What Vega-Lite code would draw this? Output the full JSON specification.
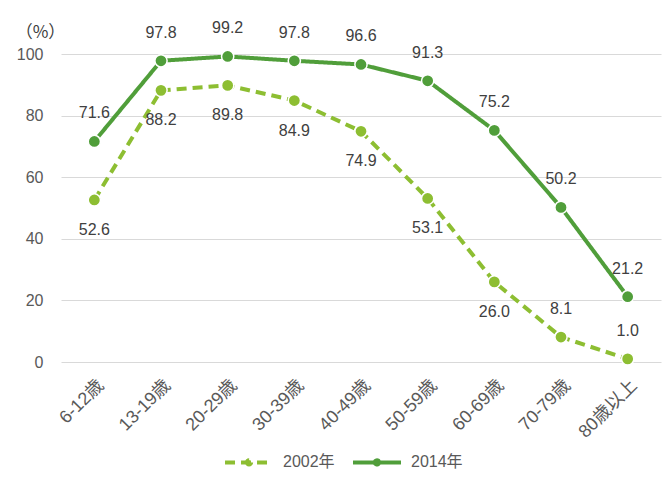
{
  "$schema": "https://vega.github.io/schema/vega-lite/v6.json",
  "width": 600,
  "height": 308,
  "autosize": "none",
  "padding": {"left": 61, "top": 54, "right": 10, "bottom": 117},
  "background": "white",
  "config": {
    "font": "'Liberation Sans', 'Noto Sans CJK JP', sans-serif",
    "view": {"stroke": null},
    "axis": {"labelColor": "#595959", "labelFontSize": 16, "titleColor": "#404040", "gridColor": "#D9D9D9", "gridWidth": 1, "domain": false, "ticks": false},
    "legend": {"labelColor": "#595959", "labelFontSize": 16}
  },
  "data": {
    "values": [
      {"age": "6-12歳", "year": "2002年", "rate": 52.6},
      {"age": "13-19歳", "year": "2002年", "rate": 88.2},
      {"age": "20-29歳", "year": "2002年", "rate": 89.8},
      {"age": "30-39歳", "year": "2002年", "rate": 84.9},
      {"age": "40-49歳", "year": "2002年", "rate": 74.9},
      {"age": "50-59歳", "year": "2002年", "rate": 53.1},
      {"age": "60-69歳", "year": "2002年", "rate": 26.0},
      {"age": "70-79歳", "year": "2002年", "rate": 8.1},
      {"age": "80歳以上", "year": "2002年", "rate": 1.0},
      {"age": "6-12歳", "year": "2014年", "rate": 71.6},
      {"age": "13-19歳", "year": "2014年", "rate": 97.8},
      {"age": "20-29歳", "year": "2014年", "rate": 99.2},
      {"age": "30-39歳", "year": "2014年", "rate": 97.8},
      {"age": "40-49歳", "year": "2014年", "rate": 96.6},
      {"age": "50-59歳", "year": "2014年", "rate": 91.3},
      {"age": "60-69歳", "year": "2014年", "rate": 75.2},
      {"age": "70-79歳", "year": "2014年", "rate": 50.2},
      {"age": "80歳以上", "year": "2014年", "rate": 21.2}
    ]
  },
  "encoding": {
    "x": {
      "field": "age", "type": "ordinal",
      "sort": ["6-12歳", "13-19歳", "20-29歳", "30-39歳", "40-49歳", "50-59歳", "60-69歳", "70-79歳", "80歳以上"],
      "scale": {"type": "point", "padding": 0.5},
      "axis": {"title": null, "labelAngle": -45, "labelPadding": 14, "labelFontSize": 18, "grid": false}
    },
    "y": {
      "field": "rate", "type": "quantitative",
      "scale": {"domain": [0, 100]},
      "axis": {"values": [0, 20, 40, 60, 80, 100], "title": "（%）", "titleFont": "'Noto Sans CJK JP', sans-serif", "titleAngle": 0, "titleX": -21, "titleY": -22, "titleAlign": "center", "titleBaseline": "middle", "titleFontSize": 17, "titleFontWeight": "normal", "labelPadding": 18}
    }
  },
  "layer": [
    {
      "mark": {"type": "line", "strokeWidth": 4},
      "encoding": {
        "color": {
          "field": "year", "type": "nominal",
          "scale": {"domain": ["2002年", "2014年"], "range": ["#8DBE32", "#509E3A"]},
          "legend": {
            "title": null, "orient": "none", "direction": "horizontal", "legendX": 162, "legendY": 382,
            "symbolType": "M-1,0H1M0.09,0A0.09,0.09,0,1,1,-0.09,0A0.09,0.09,0,1,1,0.09,0Z",
            "symbolSize": 2300, "symbolStrokeWidth": 4, "columnPadding": 10, "labelOffset": 8,
            "encode": {"symbols": {"update": {"fill": {"scale": "color", "field": "value"}}}}
          }
        },
        "strokeDash": {
          "field": "year", "type": "nominal",
          "scale": {"domain": ["2002年", "2014年"], "range": [[10, 6], [1, 0]]},
          "legend": null
        }
      }
    },
    {
      "mark": {"type": "point", "filled": true, "size": 150, "stroke": "white", "strokeWidth": 1.5, "opacity": 1},
      "encoding": {
        "fill": {"field": "year", "type": "nominal", "scale": {"domain": ["2002年", "2014年"], "range": ["#8DBE32", "#509E3A"]}, "legend": null}
      }
    },
    {
      "transform": [{"filter": "datum.year === '2014年' || datum.age === '70-79歳' || datum.age === '80歳以上'"}],
      "mark": {"type": "text", "dy": -28, "fontSize": 16, "color": "#404040", "baseline": "middle"},
      "encoding": {"text": {"field": "rate", "type": "quantitative", "format": ".1f"}}
    },
    {
      "transform": [{"filter": "datum.year === '2002年' && datum.age !== '70-79歳' && datum.age !== '80歳以上'"}],
      "mark": {"type": "text", "dy": 30, "fontSize": 16, "color": "#404040", "baseline": "middle"},
      "encoding": {"text": {"field": "rate", "type": "quantitative", "format": ".1f"}}
    }
  ]
}
